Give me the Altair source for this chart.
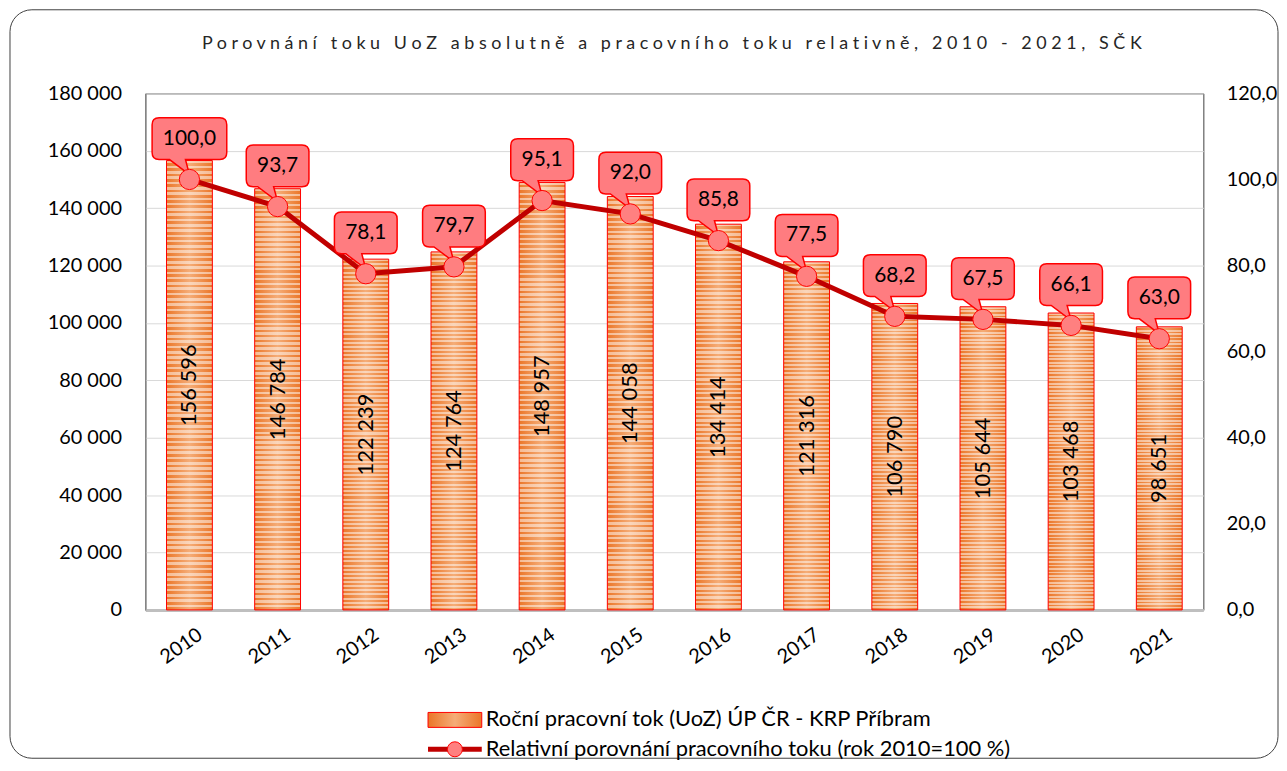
import altair as alt
import pandas as pd

years = ["2010", "2011", "2012", "2013", "2014", "2015", "2016", "2017", "2018", "2019", "2020", "2021"]
flow = [156596, 146784, 122239, 124764, 148957, 144058, 134414, 121316, 106790, 105644, 103468, 98651]
rel = [100.0, 93.7, 78.1, 79.7, 95.1, 92.0, 85.8, 77.5, 68.2, 67.5, 66.1, 63.0]

title_text = "Porovnání toku UoZ absolutně a pracovního toku relativně, 2010 - 2021, SČK"
legend_bar = "Roční pracovní tok (UoZ) ÚP ČR - KRP Příbram"
legend_line = "Relativní porovnání pracovního toku (rok 2010=100 %)"

flow_labels = [f"{v:,}".replace(",", " ") for v in flow]
rel_labels = [f"{v:.1f}".replace(".", ",") for v in rel]

df = pd.DataFrame({
    "year": years,
    "flow": flow,
    "half": [v / 2 for v in flow],
    "flow_label": flow_labels,
    "rel": rel,
    "rel_label": rel_labels,
    "kind": ["w5" if len(s) > 4 else "w4" for s in rel_labels],
})

FONT = "Lato"
W, H = 1063, 519


def callout_path(w, h=42, bottom=-20, r=7, p1=-20, p2=-4, tip=(0, -5), unit=50.0):
    left, right, top = -w / 2, w / 2, bottom - h
    pts = [
        ("M", left + r, top), ("L", right - r, top), ("Q", right, top, right, top + r),
        ("L", right, bottom - r), ("Q", right, bottom, right - r, bottom),
        ("L", p2, bottom), ("L", tip[0], tip[1]), ("L", p1, bottom),
        ("L", left + r, bottom), ("Q", left, bottom, left, bottom - r),
        ("L", left, top + r), ("Q", left, top, left + r, top),
    ]
    out = []
    for p in pts:
        cmd = p[0]
        nums = " ".join(f"{v / unit:.4f}" for v in p[1:])
        out.append(f"{cmd}{nums}")
    return " ".join(out) + " Z"


path4 = callout_path(63)
path5 = callout_path(75)

x_enc = alt.X(
    "year:N",
    scale=alt.Scale(paddingInner=0.48, paddingOuter=0.24),
    axis=alt.Axis(labelAngle=-35, labelAlign="center", labelBaseline="middle",
                  labelPadding=36, labelOffset=-8, ticks=False, domainColor="#BFBFBF",
                  domainWidth=3, labelFontSize=20, labelColor="#000000"),
    title=None,
)

# --- bars group (left axis)
left_scale = alt.Scale(domain=[0, 180000], nice=False)
left_axis = alt.Axis(orient="left", values=list(range(0, 180001, 20000)),
                     labelExpr="replace(format(datum.value, ','), ',', ' ')",
                     grid=True, gridColor="#D9D9D9", gridWidth=1, ticks=False,
                     domainColor="#868686", labelPadding=24, labelFontSize=20,
                     labelColor="#000000")

base_grad = alt.Gradient(
    gradient="linear", x1=0, x2=1, y1=0, y2=0,
    stops=[alt.GradientStop(color="#EB7628", offset=0),
           alt.GradientStop(color="#F5AD78", offset=0.5),
           alt.GradientStop(color="#EB7628", offset=1)],
)
N = 85
stripe_stops = []
for i in range(N):
    a, b, c = i / N, (i + 0.5) / N, (i + 1) / N
    stripe_stops += [
        alt.GradientStop(color="rgba(255,255,255,0.5)", offset=a),
        alt.GradientStop(color="rgba(255,255,255,0.5)", offset=b),
        alt.GradientStop(color="rgba(255,255,255,0)", offset=b),
        alt.GradientStop(color="rgba(255,255,255,0)", offset=c),
    ]
stripe_grad = alt.Gradient(gradient="linear", x1=0, x2=0, y1=0, y2=1, stops=stripe_stops)

bar_base = alt.Chart(df).encode(x=x_enc, y=alt.Y("flow:Q", scale=left_scale, axis=left_axis, title=None))
bars = bar_base.mark_bar(color=base_grad, strokeWidth=0)
bars_stripes = bar_base.mark_bar(color=stripe_grad, stroke="#FF0000", strokeWidth=1)
bar_text = alt.Chart(df).mark_text(
    angle=270, align="center", baseline="middle", fontSize=22, font=FONT, color="#000000"
).encode(x=x_enc, y=alt.Y("half:Q", scale=left_scale, axis=left_axis, title=None), text="flow_label:N")

bar_group = alt.layer(bars, bars_stripes, bar_text)

# --- line group (right axis)
y_right = alt.Y(
    "rel:Q",
    scale=alt.Scale(domain=[0, 120], nice=False),
    axis=alt.Axis(orient="right", values=[0, 20, 40, 60, 80, 100, 120],
                  labelExpr="replace(format(datum.value, '.1f'), '.', ',')",
                  grid=False, domain=False, ticks=False, labelPadding=23,
                  labelFontSize=20, labelColor="#000000"),
    title=None,
)
line_base = alt.Chart(df).encode(x=x_enc, y=y_right)
line = line_base.mark_line(color="#C00000", strokeWidth=5)
callouts = line_base.mark_point(
    filled=True, size=10000, fill="#FF7C80", stroke="#FF0000", strokeWidth=1.5, opacity=1, fillOpacity=1
).encode(shape=alt.Shape("kind:N", scale=alt.Scale(domain=["w4", "w5"], range=[path4, path5]), legend=None))
points = line_base.mark_point(
    filled=True, size=415, shape="circle", fill="#FF8080", stroke="#FF0000", strokeWidth=1, opacity=1
)
call_text = line_base.mark_text(
    dy=-41, fontSize=21, font=FONT, color="#000000", align="center", baseline="middle"
).encode(text="rel_label:N")
line_group = alt.layer(line, callouts, points, call_text)

# --- decorations: title, legend, frame
one = pd.DataFrame({"a": [0]})
spaced_title = "\u00a0\u00a0\u00a0".join("\u00a0".join(list(w)) for w in title_text.split(" "))
title = alt.Chart(one).mark_text(
    text=spaced_title, fontSize=18, font=FONT, color="#262626", align="center", baseline="middle"
).encode(x=alt.value(529), y=alt.value(-50))
frame = alt.Chart(one).mark_rect(
    fill=None, stroke="#404040", strokeWidth=1, cornerRadius=22
).encode(x=alt.value(-136), x2=alt.value(1138), y=alt.value(-84), y2=alt.value(668))
leg_swatch = alt.Chart(one).mark_rect(color=base_grad, stroke="#FF0000", strokeWidth=1).encode(
    x=alt.value(284), x2=alt.value(338), y=alt.value(622), y2=alt.value(637))
leg_text1 = alt.Chart(one).mark_text(
    text=legend_bar, fontSize=22, font=FONT, color="#000000", align="left", baseline="middle"
).encode(x=alt.value(342), y=alt.value(629))
leg_line = alt.Chart(one).mark_rule(color="#C00000", strokeWidth=5).encode(
    x=alt.value(284), x2=alt.value(338), y=alt.value(659))
leg_pt = alt.Chart(one).mark_point(
    filled=True, size=227, shape="circle", fill="#FF8080", stroke="#FF0000", strokeWidth=1, opacity=1
).encode(x=alt.value(311), y=alt.value(659))
leg_text2 = alt.Chart(one).mark_text(
    text=legend_line, fontSize=22, font=FONT, color="#000000", align="left", baseline="middle"
).encode(x=alt.value(342), y=alt.value(659))

deco = alt.layer(frame, title, leg_swatch, leg_text1, leg_line, leg_pt, leg_text2)

chart = alt.layer(bar_group, line_group, deco).resolve_scale(y="independent").properties(
    width=W, height=H,
    padding={"left": 138, "top": 84, "right": 76, "bottom": 150},
    autosize=alt.AutoSizeParams(type="none"),
).configure(font=FONT).configure_view(stroke="#404040", strokeWidth=1).configure_axis(
    labelFont=FONT
)

chart.save("out.html", embed_options={"renderer": "svg", "actions": False})
